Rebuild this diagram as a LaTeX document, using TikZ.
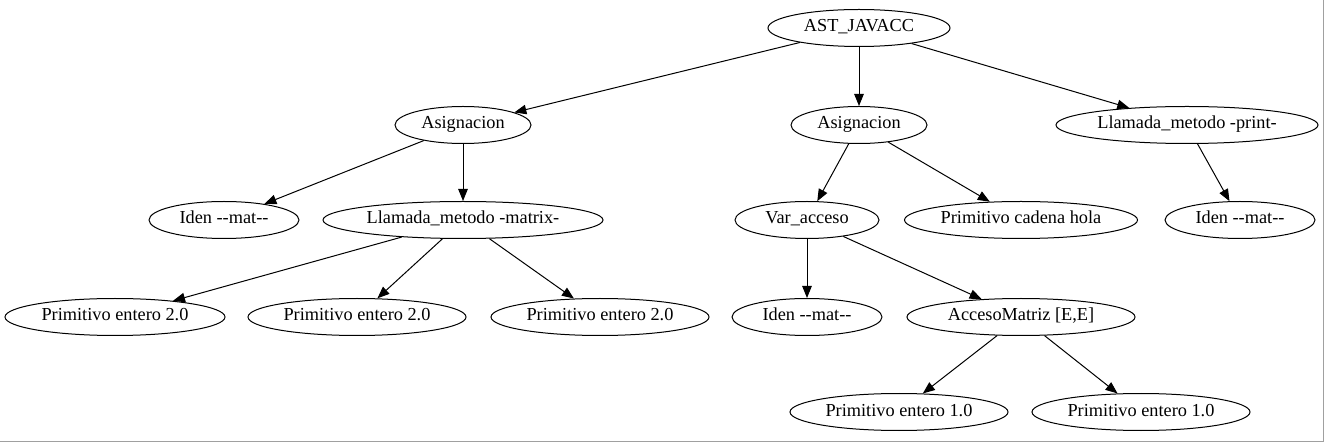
\documentclass[tikz,border=0pt]{standalone}
\usepackage{fontspec}
\setmainfont{Liberation Serif}
\usetikzlibrary{shapes.geometric, arrows.meta}
\definecolor{framegray}{RGB}{160,160,160}
\tikzset{
  astnode/.style={ellipse, draw, line width=1pt, inner sep=0pt, minimum height=37pt,
    font=\rmfamily\fontsize{18.3}{20}\selectfont, text height=12pt, text depth=4pt,
    execute at begin node={\hbox to 0pt\bgroup\hss}, execute at end node={\hss\egroup}},
  astedge/.style={-{Triangle[length=12pt,width=9.5pt]}, line width=1pt},
}

\begin{document}
\begin{tikzpicture}[x=1pt, y=-1pt]
    \useasboundingbox (0,0) rectangle (1325,443);
    \draw[framegray, line width=1pt] (1323.5,0) -- (1323.5,441.5) -- (0,441.5);

    % root
    \node[astnode, minimum width=182pt] (root) at (859,28) {AST\_JAVACC};

    % level 1
    \node[astnode, minimum width=136pt] (asigA) at (463,125) {Asignacion};
    \node[astnode, minimum width=136pt] (asigB) at (859,125) {Asignacion};
    \node[astnode, minimum width=262pt] (llamPrint) at (1187,125) {Llamada\_metodo -print-};

    % level 2
    \node[astnode, minimum width=150pt] (idenA) at (224,220) {Iden -{}-mat-{}-};
    \node[astnode, minimum width=280pt] (llamMatrix) at (463,220) {Llamada\_metodo -matrix-};
    \node[astnode, minimum width=144pt] (varAcc) at (807,220) {Var\_acceso};
    \node[astnode, minimum width=233pt] (primCad) at (1021,220) {Primitivo cadena hola};
    \node[astnode, minimum width=150pt] (idenC) at (1240,220) {Iden -{}-mat-{}-};

    % level 3
    \node[astnode, minimum width=220pt] (primA) at (115,317) {Primitivo entero 2.0};
    \node[astnode, minimum width=218pt] (primB) at (357,317) {Primitivo entero 2.0};
    \node[astnode, minimum width=218pt] (primC) at (600,317) {Primitivo entero 2.0};
    \node[astnode, minimum width=150pt] (idenB) at (807,317) {Iden -{}-mat-{}-};
    \node[astnode, minimum width=228pt] (accMat) at (1021,317) {AccesoMatriz [E,E]};

    % level 4
    \node[astnode, minimum width=218pt] (primD) at (899,412) {Primitivo entero 1.0};
    \node[astnode, minimum width=218pt] (primE) at (1141,412) {Primitivo entero 1.0};

    % edges
    \draw[astedge] (root) -- (asigA);
    \draw[astedge] (root) -- (asigB);
    \draw[astedge] (root) -- (llamPrint);
    \draw[astedge] (asigA) -- (idenA);
    \draw[astedge] (asigA) -- (llamMatrix);
    \draw[astedge] (asigB) -- (varAcc);
    \draw[astedge] (asigB) -- (primCad);
    \draw[astedge] (llamPrint) -- (idenC);
    \draw[astedge] (llamMatrix) -- (primA);
    \draw[astedge] (llamMatrix) -- (primB);
    \draw[astedge] (llamMatrix) -- (primC);
    \draw[astedge] (varAcc) -- (idenB);
    \draw[astedge] (varAcc) -- (accMat);
    \draw[astedge] (accMat) -- (primD);
    \draw[astedge] (accMat) -- (primE);
\end{tikzpicture}
\end{document}
